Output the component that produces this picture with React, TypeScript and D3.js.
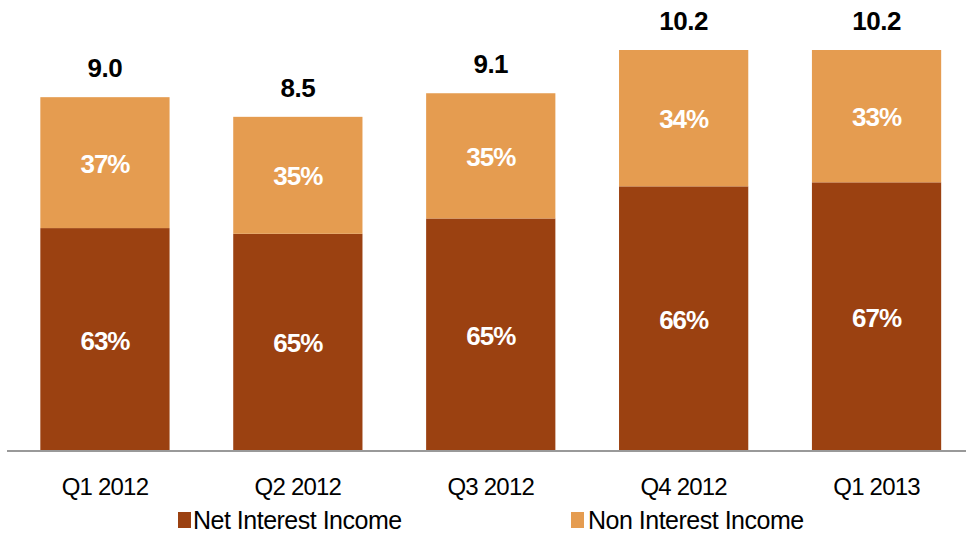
import React from "react";
import * as d3 from "d3";

const categories = ["Q1 2012", "Q2 2012", "Q3 2012", "Q4 2012", "Q1 2013"];
const totals = [9.0, 8.5, 9.1, 10.2, 10.2];
const netInterestShare = [63, 65, 65, 66, 67];
const nonInterestShare = [37, 35, 35, 34, 33];
const seriesNames = ["Net Interest Income", "Non Interest Income"];
const colors = ["#9B4111", "#E59C50"];

const W = 966;
const H = 533;

export default function App() {
  const x = d3.scaleBand<string>().domain(categories).range([8.5, 973]).paddingInner(0.33).paddingOuter(0.165);
  const y = d3.scaleLinear().domain([0, 10.2]).range([451, 50]);

  return (
    <svg width={W} height={H} style={{ position: "absolute", left: 0, top: 0, fontFamily: "'Liberation Sans', Arial, sans-serif" }}>
      {categories.map((c, i) => {
        const bx = x(c)!;
        const bw = x.bandwidth();
        const net = (totals[i] * netInterestShare[i]) / 100;
        const yTop = y(totals[i]);
        const yMid = y(net);
        const y0 = y(0);
        const cx = bx + bw / 2;
        return (
          <g key={c}>
            <rect x={bx} y={yMid} width={bw} height={y0 - yMid} fill={colors[0]} />
            <rect x={bx} y={yTop} width={bw} height={yMid - yTop} fill={colors[1]} />
            <text x={cx} y={(yMid + y0) / 2 + 10} textAnchor="middle" fill="#fff" fontWeight="bold" fontSize={26} letterSpacing={-1}>
              {netInterestShare[i]}%
            </text>
            <text x={cx} y={(yTop + yMid) / 2 + 10} textAnchor="middle" fill="#fff" fontWeight="bold" fontSize={26} letterSpacing={-1}>
              {nonInterestShare[i]}%
            </text>
            <text x={cx} y={yTop - 20} textAnchor="middle" fill="#000" fontWeight="bold" fontSize={26} letterSpacing={-0.5}>
              {totals[i].toFixed(1)}
            </text>
            <text x={cx} y={495} textAnchor="middle" fill="#000" fontSize={24} letterSpacing={-0.8}>
              {c}
            </text>
          </g>
        );
      })}
      <line x1={7} x2={966} y1={451} y2={451} stroke="#999" strokeWidth={2} />
      <g>
        <rect x={178} y={512} width={13} height={16} fill={colors[0]} />
        <text x={193} y={529} fontSize={25} fill="#000" letterSpacing={-0.5}>{seriesNames[0]}</text>
        <rect x={571} y={512} width={13} height={16} fill={colors[1]} />
        <text x={588} y={529} fontSize={25} fill="#000" letterSpacing={-0.5}>{seriesNames[1]}</text>
      </g>
    </svg>
  );
}
